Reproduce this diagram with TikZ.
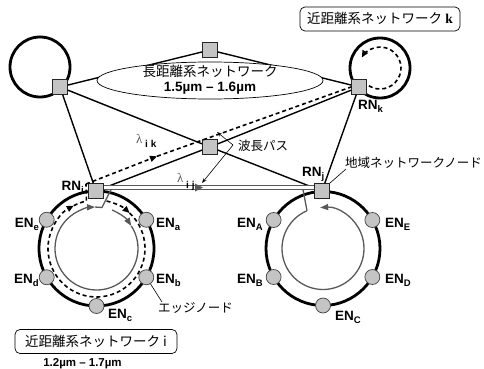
\documentclass[tikz,border=0pt]{standalone}
\usepackage{fontspec}
\setmainfont{Liberation Sans}
\newfontfamily\jpfont{Noto Sans CJK JP}
\newfontfamily\serifff{Liberation Serif}
\usetikzlibrary{arrows.meta,shapes.geometric,calc}
\definecolor{nodegray}{HTML}{C4C4C4}
\definecolor{pathgray}{HTML}{595959}
\newcommand\lsub[1]{\raisebox{-3.5pt}{\fontsize{9.5}{10}\selectfont\bfseries #1}}
\begin{document}
\begin{tikzpicture}[x=1pt,y=1pt,
  sq/.style={rectangle, draw=black!85, fill=nodegray, line width=0.8pt, minimum size=15pt, inner sep=0pt},
  en/.style={circle, draw=black!75, fill=nodegray, line width=0.7pt, minimum size=15pt, inner sep=0pt},
  link/.style={line width=1.4pt},
  ringline/.style={line width=2.8pt},
  dsh/.style={line width=1.6pt, dash pattern=on 4pt off 3pt},
  gp/.style={line width=1.3pt, draw=pathgray},
  lbl/.style={font=\fontsize{13.5}{15}\selectfont\bfseries, inner sep=0pt},
  jlbl/.style={font=\jpfont\fontsize{12.5}{14}\selectfont, inner sep=0pt},
  tipd/.style={-{Triangle[length=7pt,width=6pt]}},
  tipg/.style={-{Triangle[length=8pt,width=6pt]}},
  lead/.style={line width=0.6pt},
  ltip/.style={-{Stealth[length=5pt,width=3.5pt]}},
  rbox/.style={draw, rounded corners=5pt, line width=0.7pt, inner sep=0pt},
]
\useasboundingbox (0,0) rectangle (484,-369);

% ring centres
\coordinate (cl) at (40,-67);
\coordinate (ck) at (380,-68);
\coordinate (ci) at (96.5,-248.5);
\coordinate (cj) at (323,-248.5);

% outer rings
\draw[ringline] (cl) circle[radius=30];
\draw[ringline] (ck) circle[radius=30];
\draw[ringline] (ci) circle[radius=57.5];
\draw[ringline] (cj) circle[radius=57];

% gray wavelength paths inside rings
\draw[gp, tipg] ($(ci)+(68:41.5)$) arc[start angle=68, end angle=33, radius=41.5];
\draw[gp, tipg] ($(ci)+(33:41.5)$) arc[start angle=33, end angle=-268, radius=41.5];
\coordinate (gi1) at (102,-207.5);
\coordinate (gi2) at (111,-189.6);
\draw[gp] ($(ci)+(92:41.5)$) -- (gi1) -- (gi2);
\coordinate (gj1) at (303,-189.6);
\draw[gp] (gj1) -- ($(cj)+(113:41)$);
\draw[gp, tipg] ($(cj)+(113:41)$) arc[start angle=113, end angle=454, radius=41];

% dashed path in ring i
\draw[dsh, tipd] ($(ci)+(78:48.5)$) arc[start angle=78, end angle=47, radius=48.5];
\draw[dsh, tipd] ($(ci)+(47:48.5)$) arc[start angle=47, end angle=-242, radius=48.5];
\coordinate (di1) at (86,-184);
\draw[dsh] ($(ci)+(118:48.5)$) arc[start angle=118, end angle=102, radius=48.5] -- (di1);
% dashed path in ring k
\draw[dsh, tipd] ($(ck)+(238:21)$) arc[start angle=238, end angle=510, radius=21];

% nodes
\node[sq] (L) at (60,-87) {};
\node[sq] (T) at (210,-50) {};
\node[sq] (RNk) at (359,-87) {};
\node[sq] (C) at (210,-147) {};
\node[sq] (RNi) at (96,-191) {};
\node[sq] (RNj) at (322,-191) {};

\foreach \a/\n in {30/a, -30/b, -90/c, 210/d, 150/e}
  \node[en] (ENi\n) at ($(ci)+(\a:57.5)$) {};
\foreach \a/\n in {150/A, 210/B, -90/C, -30/D, 30/E}
  \node[en] (ENj\n) at ($(cj)+(\a:57)$) {};

% links
\draw[link] (L) -- (T);
\draw[link] (T) -- (RNk);
\draw[link] (L) -- (RNi);
\draw[link] (L) -- (C);
\draw[link] (C) -- (RNj);
\draw[link] (RNk) -- (C);
\draw[link] (C) -- (RNi);
\draw[link] (RNk) -- (RNj);

% dashed lambda_ik
\coordinate (dk) at (157,-156.3);
\draw[dsh, tipd] (di1) -- (dk);
\draw[dsh] (dk) -- (RNk.west);

% double line lambda_ij
\draw[line width=1pt, draw=pathgray, double=white, double distance=3.2pt]
  ($(RNi.east)+(0,3.5)$) -- ($(RNj.west)+(0,3.5)$);
\fill[pathgray] (203,-187.5) -- (195,-183.5) -- (195,-191.5) -- cycle;

% long-haul ellipse
\node[ellipse, draw, fill=white, line width=0.7pt, minimum width=226pt, minimum height=37pt, inner sep=0pt] (LH) at (210,-80.5) {};
\node[jlbl, font=\jpfont\fontsize{13.5}{15}\selectfont] (LHt) at (210,-71) {長距離系ネットワーク};
\node[lbl, anchor=base] (LHw) at (210,-91) {1.5µm – 1.6µm};

% RN labels
\node[lbl, anchor=base east] (RNil) at (84,-190) {RN\lsub{i}};
\node[lbl, anchor=base west] (RNjl) at (302,-176) {RN\lsub{j}};
\node[lbl, anchor=base west] (RNkl) at (358,-109) {RN\lsub{k}};

% EN labels ring i
\node[lbl, anchor=base west] at (156,-227) {EN\lsub{a}};
\node[lbl, anchor=base west] at (156,-283) {EN\lsub{b}};
\node[lbl, anchor=base west] at (108,-318) {EN\lsub{c}};
\node[lbl, anchor=base east] at (39,-283) {EN\lsub{d}};
\node[lbl, anchor=base east] at (39,-227) {EN\lsub{e}};
% EN labels ring j
\node[lbl, anchor=base east] at (263,-227) {EN\lsub{A}};
\node[lbl, anchor=base east] at (263,-283) {EN\lsub{B}};
\node[lbl, anchor=base west] at (335,-320) {EN\lsub{C}};
\node[lbl, anchor=base west] at (385,-283) {EN\lsub{D}};
\node[lbl, anchor=base west] at (385,-227) {EN\lsub{E}};

% lambda labels
\node[anchor=base west, inner sep=0pt, text=pathgray, font=\serifff\fontsize{13}{14}\selectfont] (lik) at (136,-143) {λ};
\node[anchor=base west, inner sep=0pt, font=\fontsize{10}{11}\selectfont\bfseries] (liks) at (145,-147) {i k};
\node[anchor=base west, inner sep=0pt, text=pathgray, font=\serifff\fontsize{13}{14}\selectfont] (lij) at (177,-182) {λ};
\node[anchor=base west, inner sep=0pt, font=\fontsize{10}{11}\selectfont\bfseries] (lijs) at (186,-188) {i j};

% wavelength path annotation
\node[jlbl, anchor=west] (wl) at (238,-146) {波長パス};
\coordinate (wv) at (233,-145);
\draw[lead, ltip] (wv) -- (217,-132);
\draw[lead, ltip] (wv) -- (202,-183);

% regional network node annotation
\node[jlbl, anchor=west] (rnn) at (345,-163) {地域ネットワークノード};
\draw[lead] (RNj.north east) -- (346,-169);

% edge node annotation
\node[jlbl, anchor=west] (edn) at (158,-308) {エッジノード};
\draw[lead] (ENib) -- (162,-302);

% network boxes
\node[rbox, minimum width=160pt, minimum height=24pt] (bk) at (380,-19) {};
\node[jlbl, font=\jpfont\fontsize{13.5}{15}\selectfont] (bkt) at (380,-18.5) {近距離系ネットワーク \serifff\bfseries k};
\node[rbox, minimum width=162pt, minimum height=24pt] (bi) at (96,-341.5) {};
\node[jlbl, font=\jpfont\fontsize{13.5}{15}\selectfont] (bit) at (96,-341.5) {近距離系ネットワーク i};
\node[lbl, font=\fontsize{11.5}{13}\selectfont\bfseries, anchor=base] (wi) at (82.5,-366) {1.2µm – 1.7µm};
\end{tikzpicture}
\end{document}
